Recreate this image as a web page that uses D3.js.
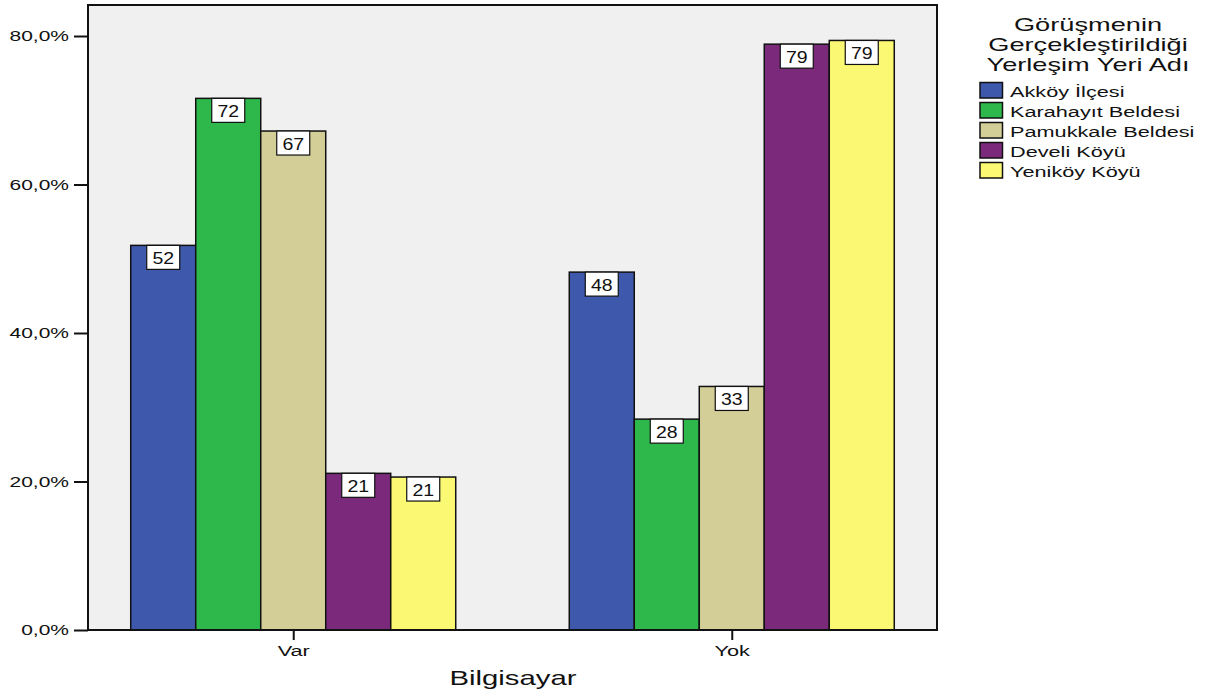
<!DOCTYPE html>
<html><head><meta charset="utf-8">
<script src="https://cdn.jsdelivr.net/npm/d3@7"></script>
<style>body{margin:0;background:#fff;}svg{display:block;font-family:"Liberation Sans",Arial,sans-serif;}</style>
</head><body><svg id="c" width="1210" height="698"></svg>
<script>
const categories = ["Var", "Yok"];
const seriesNames = ["Akköy İlçesi", "Karahayıt Beldesi", "Pamukkale Beldesi", "Develi Köyü", "Yeniköy Köyü"];
const seriesColors = ["#3e58ac", "#2eb84b", "#d3ce97", "#7b2a7b", "#fbf873"];
const akkoy = [51.8, 48.2];
const karahayit = [71.6, 28.4];
const pamukkale = [67.2, 32.8];
const develi = [21.1, 78.9];
const yenikoy = [20.6, 79.4];
const seriesValues = [akkoy, karahayit, pamukkale, develi, yenikoy];
const yTicks = [0, 20, 40, 60, 80];
const legendTitle = ["Görüşmenin", "Gerçekleştirildiği", "Yerleşim Yeri Adı"];
const xTitle = "Bilgisayar";

const svg = d3.select("#c");
const L = 88, R = 937, T = 5, B = 630;
const y = d3.scaleLinear().domain([0, 80]).range([B, 36]);
const x = d3.scalePoint().domain(categories).range([L, R]).padding(0.468);
const inner = d3.scaleBand().domain(d3.range(seriesNames.length)).range([-162.5, 162.5]);

function stretchedText(sel, px, py, str, size, sx, anchor) {
  return sel.append("text").attr("transform", `translate(${px},${py}) scale(${sx},1)`)
    .attr("text-anchor", anchor || "start").attr("font-size", size).attr("fill", "#111").text(str);
}

svg.append("rect").attr("x", L).attr("y", T).attr("width", R - L).attr("height", B - T).attr("fill", "#f0f0f0");

const groups = svg.append("g").selectAll("g").data(categories).join("g")
  .attr("transform", d => `translate(${x(d)},0)`);

groups.each(function(cat, ci) {
  const g = d3.select(this);
  seriesNames.forEach((s, si) => {
    const v = seriesValues[si][ci];
    g.append("rect").attr("x", inner(si)).attr("y", y(v)).attr("width", inner.bandwidth()).attr("height", B - y(v))
      .attr("fill", seriesColors[si]).attr("stroke", "#111").attr("stroke-width", 1.5);
  });
  seriesNames.forEach((s, si) => {
    const v = seriesValues[si][ci];
    const cx = inner(si) + inner.bandwidth() / 2;
    g.append("rect").attr("x", cx - 16.5).attr("y", y(v)).attr("width", 33).attr("height", 24)
      .attr("fill", "#fff").attr("stroke", "#111").attr("stroke-width", 1.2);
    stretchedText(g, cx, y(v) + 18.5, Math.round(v), 16, 1.22, "middle");
  });
});

// axes
const tsx = 1.4;
const yAxis = svg.append("g").attr("transform", `translate(${L},0)`)
  .call(d3.axisLeft(y).tickValues(yTicks).tickSize(14).tickPadding(5).tickFormat(d => d.toFixed(1).replace(".", ",") + "%"));
yAxis.select(".domain").remove();
yAxis.selectAll("line").attr("stroke", "#111").attr("stroke-width", 2);
yAxis.selectAll("text").attr("font-size", 15).attr("fill", "#111").attr("font-family", "Liberation Sans, Arial, sans-serif")
  .each(function() { const t = d3.select(this); t.attr("x", +t.attr("x") / tsx).attr("transform", `scale(${tsx},1)`); });

const xAxis = svg.append("g").attr("transform", `translate(0,${B})`)
  .call(d3.axisBottom(x).tickSize(10).tickPadding(5.5));
xAxis.select(".domain").remove();
xAxis.selectAll("line").attr("stroke", "#111").attr("stroke-width", 2);
xAxis.selectAll("text").attr("font-size", 15).attr("fill", "#111").attr("font-family", "Liberation Sans, Arial, sans-serif")
  .attr("transform", "scale(1.45,1)");

svg.append("rect").attr("x", L).attr("y", T).attr("width", R - L).attr("height", B - T)
  .attr("fill", "none").attr("stroke", "#111").attr("stroke-width", 2);

stretchedText(svg, 513, 685, xTitle, 20.5, 1.43, "middle");

// legend
const lg = svg.append("g");
legendTitle.forEach((t, i) => {
  stretchedText(lg, 1088, 30.5 + i * 20, t, 18.5, 1.47, "middle");
});
seriesNames.forEach((s, i) => {
  const yy = 82.5 + i * 20;
  lg.append("rect").attr("x", 980).attr("y", yy).attr("width", 22.5).attr("height", 15.5)
    .attr("fill", seriesColors[i]).attr("stroke", "#111").attr("stroke-width", 1.5);
  stretchedText(lg, 1010, yy + 14, s, 15.5, 1.4, "start");
});
</script></body></html>
